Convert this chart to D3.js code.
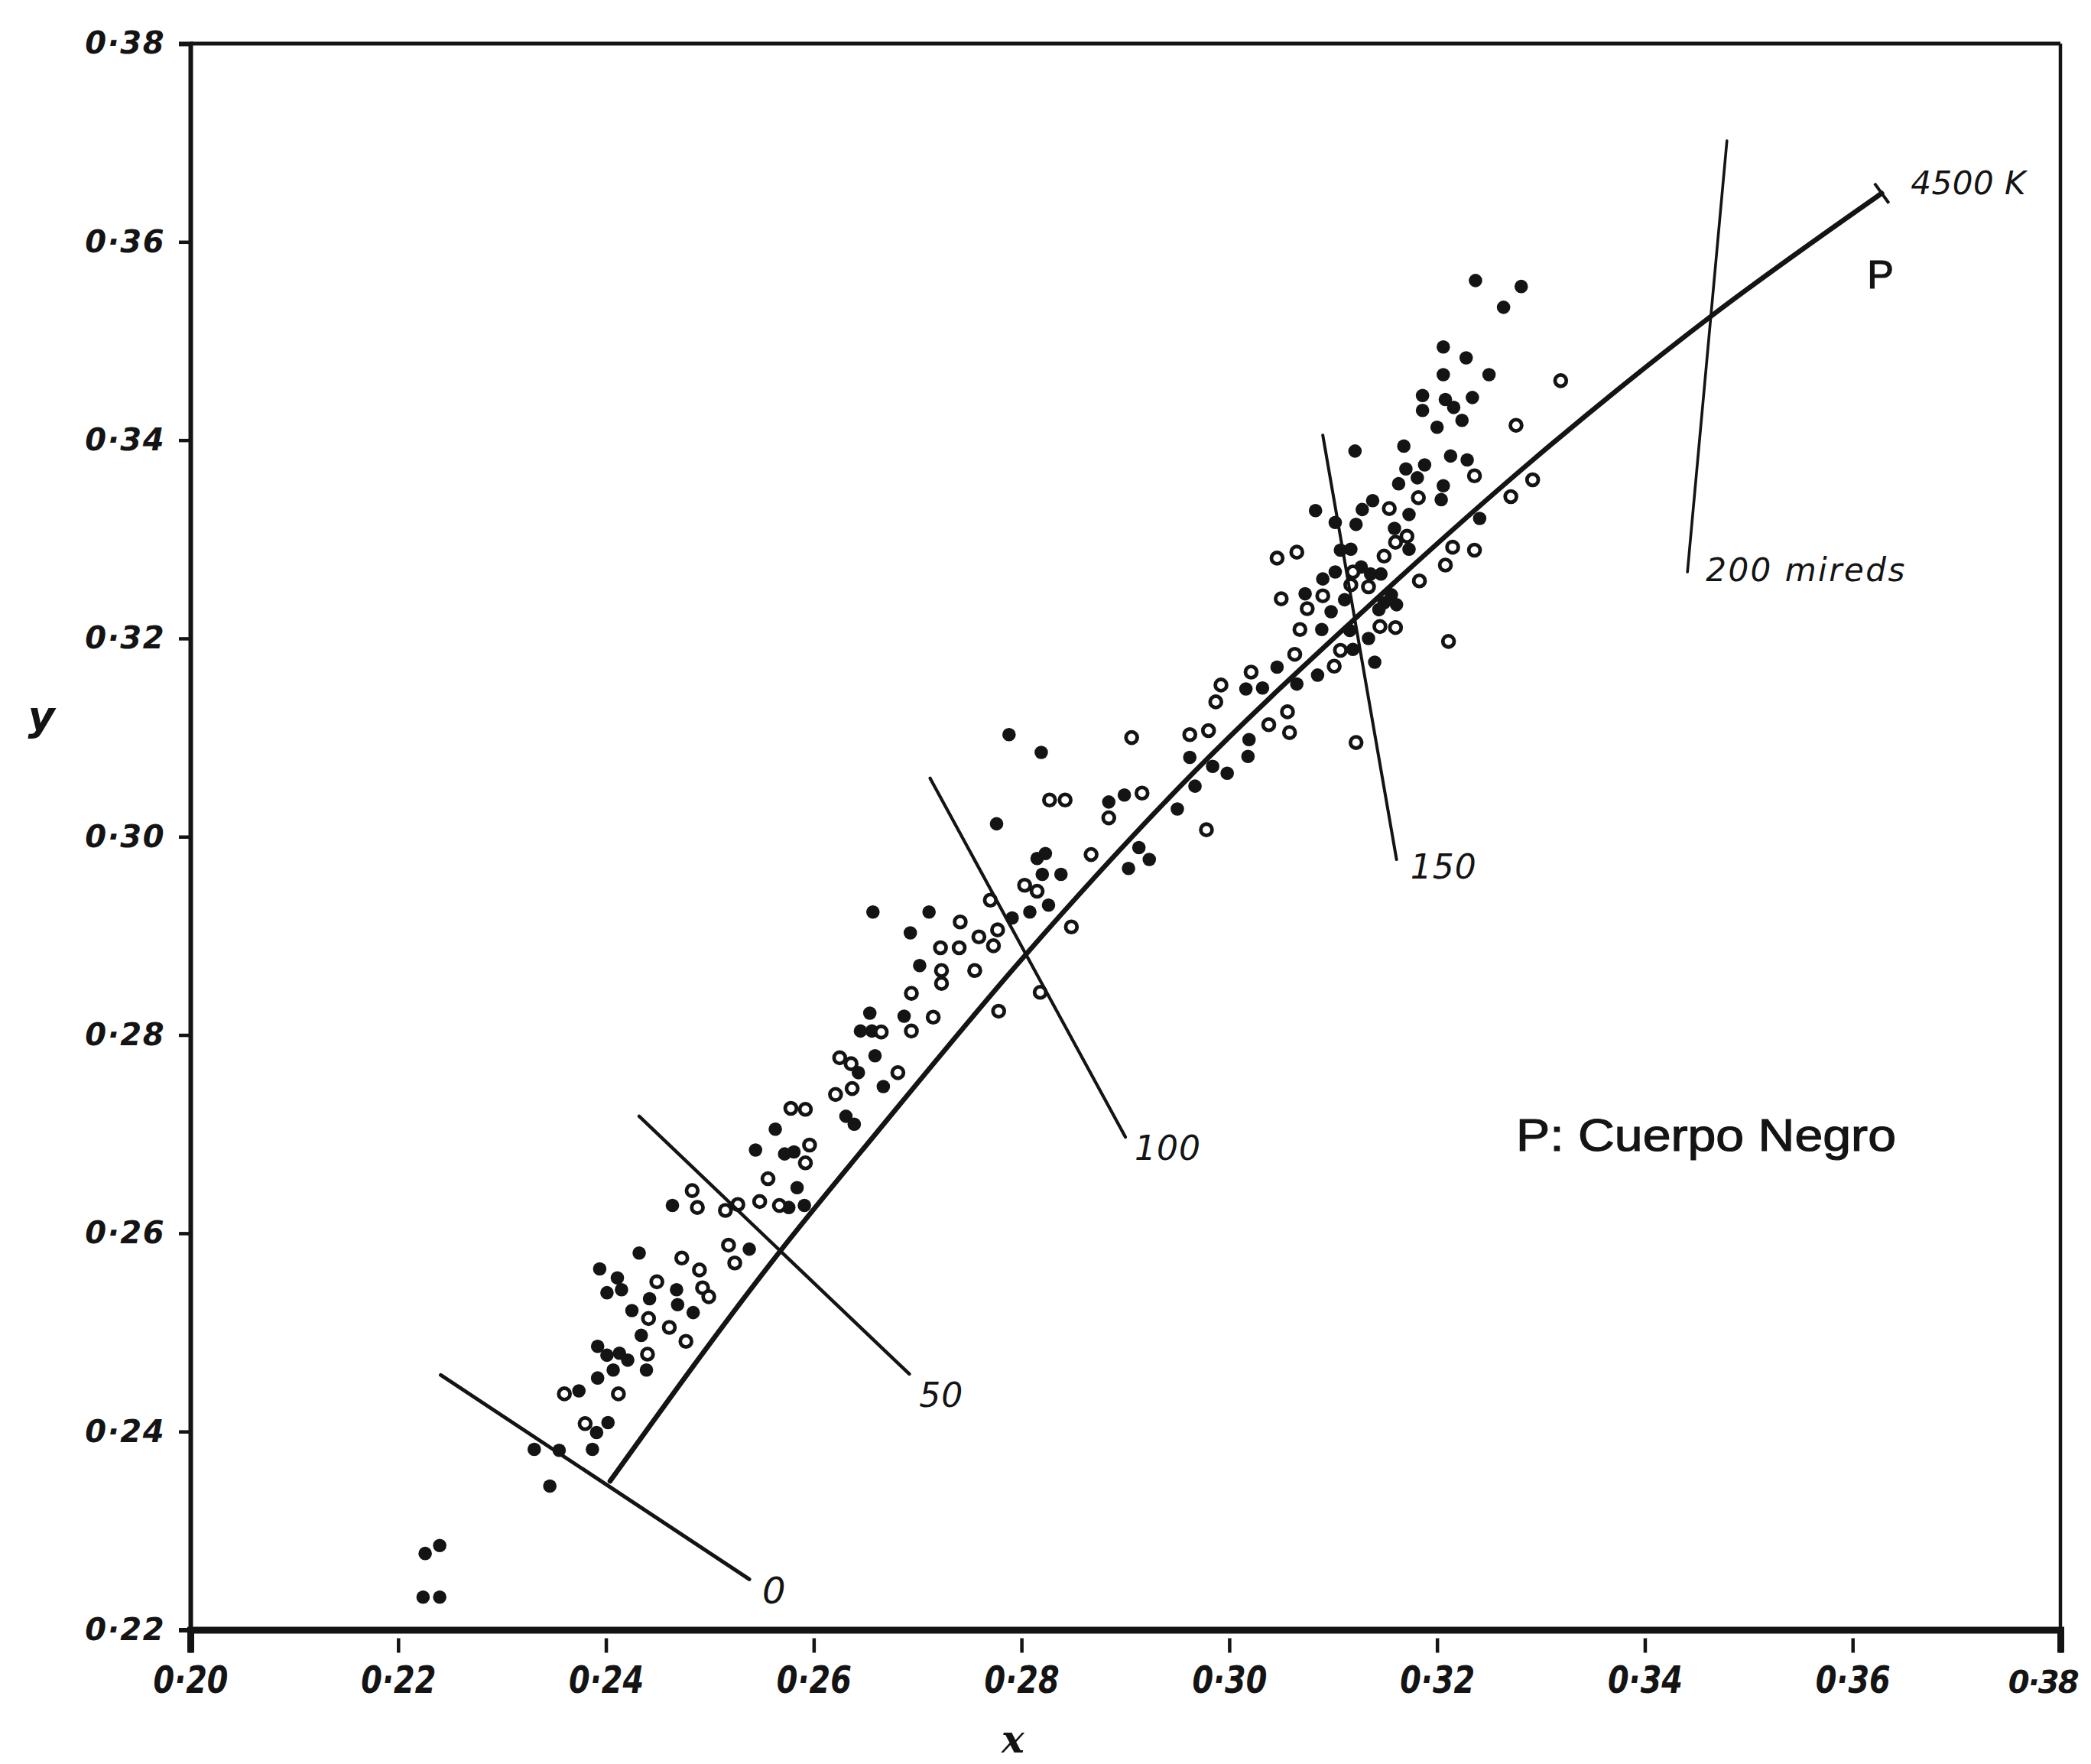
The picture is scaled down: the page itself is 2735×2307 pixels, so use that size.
<!DOCTYPE html>
<html>
<head>
<meta charset="utf-8">
<script src="https://cdn.jsdelivr.net/npm/d3@7/dist/d3.min.js"></script>
<style>
  html, body { margin: 0; padding: 0; background: #ffffff; }
  svg { display: block; }
</style>
</head>
<body>
<script>
// ---------------- DATA ----------------
const xTicks = [0.20, 0.22, 0.24, 0.26, 0.28, 0.30, 0.32, 0.34, 0.36, 0.38];
const yTicks = [0.22, 0.24, 0.26, 0.28, 0.30, 0.32, 0.34, 0.36, 0.38];

// Planckian locus (P: Cuerpo Negro), from infinite T to 4500 K
const locusX = [0.2404, 0.2567, 0.2661, 0.2804, 0.2965, 0.3119, 0.3290, 0.3465, 0.3628];
const locusY = [0.2350, 0.2581, 0.2702, 0.2881, 0.3064, 0.3218, 0.3378, 0.3526, 0.3649];

// iso-mired lines
const miredLabels = ["0", "50", "100", "150", "200 mireds"];
const miredX1 = [0.2241, 0.2432, 0.2712, 0.3090, 0.3479];
const miredY1 = [0.2457, 0.2718, 0.3059, 0.3405, 0.3702];
const miredX2 = [0.2538, 0.2692, 0.2900, 0.3161, 0.3441];
const miredY2 = [0.2251, 0.2458, 0.2697, 0.2977, 0.3267];

// filled symbols
const filledPoints = [
 [0.2432,0.2580],[0.2394,0.2564],[0.2411,0.2555],[0.2415,0.2543],[0.2401,0.2540],[0.2468,0.2543],[0.2469,0.2528],[0.2442,0.2534],[0.2425,0.2522],[0.2484,0.2520],[0.2434,0.2497],[0.2392,0.2486],[0.2401,0.2477],[0.2413,0.2479],[0.2421,0.2472],[0.2439,0.2462],[0.2407,0.2462],[0.2392,0.2454],[0.2374,0.2441],[0.2402,0.2409],[0.2391,0.2399],[0.2331,0.2382],[0.2355,0.2381],[0.2387,0.2382],[0.2346,0.2345],[0.2538,0.2584],[0.2226,0.2277],[0.2240,0.2285],[0.2224,0.2233],[0.2240,0.2233],
 [0.2702,0.2870],[0.2654,0.2822],[0.2687,0.2819],[0.2645,0.2804],[0.2656,0.2804],[0.2659,0.2779],[0.2643,0.2762],[0.2667,0.2748],[0.2631,0.2718],[0.2639,0.2710],[0.2563,0.2705],[0.2544,0.2684],[0.2572,0.2680],[0.2581,0.2682],[0.2584,0.2646],[0.2464,0.2628],[0.2576,0.2626],[0.2591,0.2628],
 [0.2788,0.3103],[0.2776,0.3013],[0.2657,0.2924],[0.2711,0.2924],[0.2693,0.2903],[0.2791,0.2918],
 [0.3046,0.3171],[0.3016,0.3149],[0.3032,0.3150],[0.3019,0.3098],[0.3018,0.3081],[0.2962,0.3080],[0.2984,0.3071],[0.2998,0.3064],[0.2967,0.3051],[0.2950,0.3028],[0.2819,0.3085],[0.2884,0.3035],[0.2899,0.3042],[0.2913,0.2989],[0.2923,0.2977],[0.2903,0.2968],[0.2815,0.2978],[0.2823,0.2983],[0.2820,0.2962],[0.2838,0.2962],[0.2826,0.2931],[0.2808,0.2924],
 [0.3237,0.3561],[0.3281,0.3555],[0.3264,0.3534],[0.3206,0.3494],[0.3228,0.3483],[0.3206,0.3466],[0.3250,0.3466],[0.3186,0.3445],[0.3186,0.3430],[0.3208,0.3441],[0.3216,0.3433],[0.3234,0.3443],[0.3224,0.3420],[0.3200,0.3413],[0.3121,0.3389],[0.3168,0.3394],[0.3213,0.3384],[0.3229,0.3380],[0.3170,0.3371],[0.3188,0.3375],[0.3181,0.3362],[0.3163,0.3356],[0.3206,0.3354],
 [0.3083,0.3329],[0.3128,0.3330],[0.3138,0.3339],[0.3173,0.3325],[0.3204,0.3340],[0.3122,0.3315],[0.3102,0.3317],[0.3159,0.3311],[0.3173,0.3290],[0.3241,0.3321],[0.3107,0.3289],[0.3117,0.3290],[0.3127,0.3272],[0.3136,0.3265],[0.3146,0.3265],[0.3102,0.3267],[0.3090,0.3260],[0.3073,0.3245],[0.3111,0.3239],[0.3156,0.3244],[0.3149,0.3236],[0.3161,0.3234],[0.3098,0.3227],[0.3144,0.3229],[0.3089,0.3209],[0.3116,0.3208],[0.3134,0.3200],[0.3119,0.3189],[0.3140,0.3176],[0.3085,0.3163],[0.3065,0.3154]
];

// open symbols
const openPoints = [
 [0.2473,0.2575],[0.2490,0.2563],[0.2449,0.2551],[0.2493,0.2545],[0.2499,0.2536],[0.2441,0.2514],[0.2461,0.2505],[0.2477,0.2491],[0.2440,0.2478],[0.2360,0.2438],[0.2412,0.2438],[0.2380,0.2408],[0.2518,0.2588],[0.2524,0.2570],
 [0.2723,0.2865],[0.2723,0.2852],[0.2755,0.2865],[0.2694,0.2842],[0.2715,0.2818],[0.2665,0.2803],[0.2694,0.2804],[0.2625,0.2777],[0.2636,0.2771],[0.2681,0.2762],[0.2621,0.2740],[0.2637,0.2746],[0.2578,0.2726],[0.2592,0.2725],[0.2596,0.2689],[0.2592,0.2671],[0.2556,0.2655],[0.2483,0.2643],[0.2488,0.2626],[0.2515,0.2623],[0.2527,0.2629],[0.2548,0.2632],[0.2567,0.2628],
 [0.2770,0.2936],[0.2741,0.2914],[0.2722,0.2888],[0.2740,0.2888],[0.2759,0.2899],[0.2777,0.2906],[0.2773,0.2890],[0.2818,0.2843],[0.2778,0.2824],
 [0.3021,0.3166],[0.3122,0.3095],[0.2992,0.3153],[0.2987,0.3136],[0.3056,0.3126],[0.3038,0.3113],[0.3058,0.3105],[0.2962,0.3103],[0.2980,0.3107],[0.2978,0.3007],[0.2906,0.3100],[0.2827,0.3037],[0.2842,0.3037],[0.2916,0.3044],[0.2884,0.3019],[0.2867,0.2982],[0.2803,0.2951],[0.2815,0.2945],[0.2848,0.2909],
 [0.3319,0.3460],[0.3276,0.3415],[0.3236,0.3364],[0.3292,0.3360],[0.3271,0.3343],[0.3046,0.3281],[0.3050,0.3240],
 [0.3154,0.3331],[0.3182,0.3342],[0.3171,0.3303],[0.3160,0.3297],[0.3065,0.3287],[0.3149,0.3283],[0.3215,0.3292],[0.3236,0.3289],[0.3208,0.3274],[0.3119,0.3267],[0.3134,0.3252],[0.3117,0.3254],[0.3183,0.3258],[0.3090,0.3243],[0.3075,0.3230],[0.3068,0.3209],[0.3145,0.3212],[0.3160,0.3211],[0.3211,0.3197],[0.3107,0.3188],[0.3063,0.3184],[0.3101,0.3172]
];

const endLabel = "4500 K";
const curveLabel = "P";
const legendLabel = "P: Cuerpo Negro";
const xTitle = "x";
const yTitle = "y";

// ---------------- LAYOUT ----------------
const W = 2735, H = 2307;
const L = 249, R = 2695, T = 57, B = 2131.5;
const INK = "#141414";
const tickFont = "'DejaVu Sans', sans-serif";
// label offsets (px) from the lower end of each mired line
const miredLabelDX = [17, 13, 12, 18, 24];
const miredLabelDY = [32, 43, 30, 25, 12];
const miredLabelSize = [48, 44, 44, 44, 42];
const miredStroke = [5, 4.5, 4.2, 4, 3.6];

const svg = d3.select("body").append("svg")
  .attr("width", W).attr("height", H)
  .attr("viewBox", `0 0 ${W} ${H}`);

svg.append("rect").attr("width", W).attr("height", H).attr("fill", "#ffffff");

const x = d3.scaleLinear().domain([0.20, 0.38]).range([L, R]);
const y = d3.scaleLinear().domain([0.22, 0.38]).range([B, T]);
const fmt = d => d3.format(".2f")(d).replace(".", "·");

// frame (top, right)
svg.append("line").attr("x1", L).attr("x2", R).attr("y1", T).attr("y2", T)
  .attr("stroke", INK).attr("stroke-width", 5);
svg.append("line").attr("x1", R).attr("x2", R).attr("y1", T).attr("y2", B)
  .attr("stroke", INK).attr("stroke-width", 4.5);

// y axis
const gy = svg.append("g").attr("transform", `translate(${L},0)`)
  .call(d3.axisLeft(y).tickValues(yTicks).tickFormat(fmt).tickSize(15).tickPadding(18));
gy.select(".domain").attr("stroke", INK).attr("stroke-width", 6);
gy.selectAll(".tick line").attr("stroke", INK).attr("stroke-width", 4.5);
gy.selectAll(".tick text")
  .attr("fill", INK)
  .style("font-family", tickFont).style("font-weight", "bold").style("font-style", "italic")
  .style("font-size", "40px").style("letter-spacing", "1.5px");

// x axis
const lastIdx = xTicks.length - 1;
const gx = svg.append("g").attr("transform", `translate(0,${B})`)
  .call(d3.axisBottom(x).tickValues(xTicks).tickFormat(fmt).tickSize(30));
gx.select(".domain").attr("stroke", INK).attr("stroke-width", 9);
gx.selectAll(".tick line").attr("y1", 11).attr("y2", 30).attr("stroke", INK).attr("stroke-width", 4.5);
gx.selectAll(".tick text")
  .attr("y", 82).attr("dy", 0)
  .attr("fill", INK)
  .style("font-family", tickFont).style("font-weight", "bold").style("font-style", "italic");
gx.selectAll(".tick text").filter((d, i) => i !== lastIdx)
  .attr("textLength", 98).attr("lengthAdjust", "spacingAndGlyphs")
  .style("font-size", "50px");
gx.selectAll(".tick text").filter((d, i) => i === lastIdx)
  .attr("text-anchor", "end").attr("x", 22)
  .style("font-size", "40px").style("letter-spacing", "-2px");

// axis titles
svg.append("text").attr("x", 54).attr("y", 955)
  .attr("text-anchor", "middle").attr("fill", INK)
  .style("font-family", tickFont).style("font-weight", "bold").style("font-style", "italic")
  .style("font-size", "54px").text(yTitle);
svg.append("text").attr("x", 1325).attr("y", 2292)
  .attr("text-anchor", "middle").attr("fill", INK)
  .style("font-family", "'DejaVu Serif', serif").style("font-weight", "bold").style("font-style", "italic")
  .style("font-size", "50px").text(xTitle);

// points
const pts = svg.append("g");
pts.selectAll("circle.f").data(filledPoints).join("circle")
  .attr("class", "f")
  .attr("cx", d => x(d[0])).attr("cy", d => y(d[1]))
  .attr("r", 8.8).attr("fill", INK);
pts.selectAll("circle.o").data(openPoints).join("circle")
  .attr("class", "o")
  .attr("cx", d => x(d[0])).attr("cy", d => y(d[1]))
  .attr("r", 7.4).attr("fill", "#ffffff").attr("stroke", INK).attr("stroke-width", 4.8);

// mired lines
const miredIdx = d3.range(miredLabels.length);
svg.append("g").selectAll("line").data(miredIdx).join("line")
  .attr("x1", i => x(miredX1[i])).attr("y1", i => y(miredY1[i]))
  .attr("x2", i => x(miredX2[i])).attr("y2", i => y(miredY2[i]))
  .attr("stroke", INK).attr("stroke-width", i => miredStroke[i]).attr("stroke-linecap", "round");
svg.append("g").selectAll("text").data(miredIdx).join("text")
  .attr("x", i => x(miredX2[i]) + miredLabelDX[i])
  .attr("y", i => y(miredY2[i]) + miredLabelDY[i])
  .attr("fill", INK)
  .style("font-family", tickFont).style("font-style", "italic")
  .style("font-size", i => miredLabelSize[i] + "px")
  .style("letter-spacing", i => (i === 4 ? "2.5px" : "1px"))
  .text(i => miredLabels[i]);

// Planckian locus
const locus = d3.range(locusX.length).map(i => [x(locusX[i]), y(locusY[i])]);
svg.append("path")
  .attr("d", d3.line().curve(d3.curveMonotoneX)(locus))
  .attr("fill", "none").attr("stroke", INK).attr("stroke-width", 6.5).attr("stroke-linecap", "round");

// end tick at 4500 K (perpendicular to the locus)
const pA = locus[locus.length - 2], pB = locus[locus.length - 1];
const dx = pB[0] - pA[0], dy = pB[1] - pA[1], len = Math.hypot(dx, dy);
const nx = -dy / len, ny = dx / len;
svg.append("line")
  .attr("x1", pB[0] - nx * 16).attr("y1", pB[1] - ny * 16)
  .attr("x2", pB[0] + nx * 16).attr("y2", pB[1] + ny * 16)
  .attr("stroke", INK).attr("stroke-width", 4);

svg.append("text").attr("x", pB[0] + 38).attr("y", pB[1] + 1)
  .attr("fill", INK)
  .style("font-family", tickFont).style("font-style", "italic").style("font-size", "42px")
  .style("letter-spacing", "0.5px")
  .text(endLabel);

svg.append("text").attr("x", pB[0] - 19).attr("y", pB[1] + 124)
  .attr("fill", INK).attr("stroke", INK).attr("stroke-width", 1.2)
  .style("font-family", "'Liberation Sans', Arial, sans-serif").style("font-size", "52px")
  .text(curveLabel);

svg.append("text").attr("x", 1983).attr("y", 1505)
  .attr("fill", INK).attr("stroke", INK).attr("stroke-width", 1.2)
  .attr("textLength", 497).attr("lengthAdjust", "spacingAndGlyphs")
  .style("font-family", "'Liberation Sans', Arial, sans-serif").style("font-size", "60px")
  .text(legendLabel);
</script>
</body>
</html>
